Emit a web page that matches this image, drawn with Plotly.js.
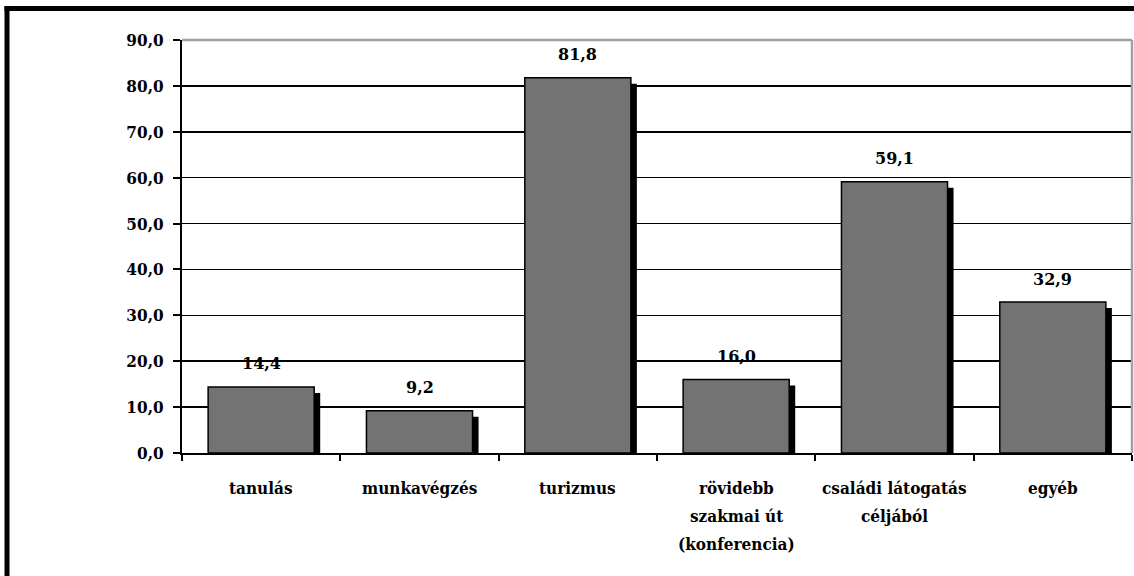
<!DOCTYPE html>
<html>
<head>
<meta charset="utf-8">
<script src="https://cdn.plot.ly/plotly-3.0.1.min.js"></script>
<style>
  html, body { margin: 0; padding: 0; background: #fff; }
  #chart { width: 1134px; height: 576px; }
</style>
</head>
<body>
<div id="chart"></div>
<script>
// ---- data ----
const categories = ["tanulás", "munkavégzés", "turizmus", "rövidebb szakmai út (konferencia)", "családi látogatás céljából", "egyéb"];
const labelLines = [["tanulás"], ["munkavégzés"], ["turizmus"], ["rövidebb", "szakmai út", "(konferencia)"], ["családi látogatás", "céljából"], ["egyéb"]];
const values = [14.4, 9.2, 81.8, 16.0, 59.1, 32.9];
const tickValues = [0, 10, 20, 30, 40, 50, 60, 70, 80, 90];

// ---- style constants ----
const FONT = "DejaVu Serif Condensed";
const FONT2 = "DejaVu Serif";
const plotTop = 40, plotBottom = 453, plotLeft = 182;
const plotH = plotBottom - plotTop, plotW = 950, yMax = 90;
const unitsPerPx = yMax / plotH;
const catPerPx = categories.length / plotW;
const barW = 0.67;
const shadowPx = 6;
const px2x = px => (px - plotLeft) / plotW;
const px2y = py => (plotBottom - py) / plotH;

const shadow = {
  type: "bar", x: categories,
  y: values.map(v => v - shadowPx * unitsPerPx),
  width: barW, offset: -barW / 2 + shadowPx * catPerPx,
  marker: { color: "#000", line: { width: 0 } },
  hoverinfo: "skip", showlegend: false
};
const bars = {
  type: "bar", x: categories, y: values,
  width: barW, offset: -barW / 2,
  marker: { color: "#737373", line: { color: "#000", width: 1.5 } },
  showlegend: false
};

const annotations = [];
values.forEach((v, i) => {
  annotations.push({
    x: categories[i], y: v, xref: "x", yref: "y",
    text: "<b>" + v.toFixed(1).replace(".", ",") + "</b>",
    showarrow: false, yanchor: "middle", yshift: 23,
    font: { family: FONT2, size: 16, color: "#000" }
  });
});
labelLines.forEach((lines, i) => {
  lines.forEach((t, j) => {
    annotations.push({
      x: categories[i], y: 0, xref: "x", yref: "paper",
      text: "<b>" + t + "</b>", showarrow: false,
      yanchor: "middle", yshift: -35 - 28 * j,
      font: { family: FONT, size: 17, color: "#000" }
    });
  });
});

const layout = {
  width: 1134, height: 576,
  margin: { l: 182, r: 2, t: 40, b: 123, pad: 0 },
  paper_bgcolor: "#fff", plot_bgcolor: "#fff",
  barmode: "overlay",
  separators: ",.",
  showlegend: false,
  font: { family: FONT },
  xaxis: {
    type: "category", categoryorder: "array", categoryarray: categories,
    showticklabels: false, tickson: "boundaries",
    ticks: "outside", ticklen: 6, tickwidth: 2, tickcolor: "#000",
    showline: true, linecolor: "#000", linewidth: 2,
    showgrid: false, zeroline: false, fixedrange: true
  },
  yaxis: {
    range: [0, yMax], tickvals: tickValues, tickformat: ".1f",
    ticks: "outside", ticklen: 7, tickwidth: 2, tickcolor: "#000",
    ticklabelstandoff: 6,
    showline: true, linecolor: "#000", linewidth: 2,
    showgrid: true, gridcolor: "#000", gridwidth: 1.5,
    zeroline: false, fixedrange: true,
    tickfont: { family: FONT, size: 17, color: "#000", weight: "bold" }
  },
  shapes: [
    { type: "line", xref: "paper", yref: "paper", x0: 0, x1: 1, y0: 1, y1: 1, line: { color: "#a0a0a0", width: 2.5 } },
    { type: "line", xref: "paper", yref: "paper", x0: 1, x1: 1, y0: 0, y1: 1, line: { color: "#a0a0a0", width: 2.5 } },
    { type: "line", xref: "paper", yref: "paper", x0: px2x(7), x1: px2x(7), y0: px2y(6), y1: px2y(620), line: { color: "#000", width: 5 } },
    { type: "line", xref: "paper", yref: "paper", x0: px2x(4.5), x1: px2x(1200), y0: px2y(8.5), y1: px2y(8.5), line: { color: "#000", width: 5 } }
  ],
  annotations: annotations
};

Plotly.newPlot("chart", [shadow, bars], layout, { displayModeBar: false, staticPlot: true });
</script>
</body>
</html>
